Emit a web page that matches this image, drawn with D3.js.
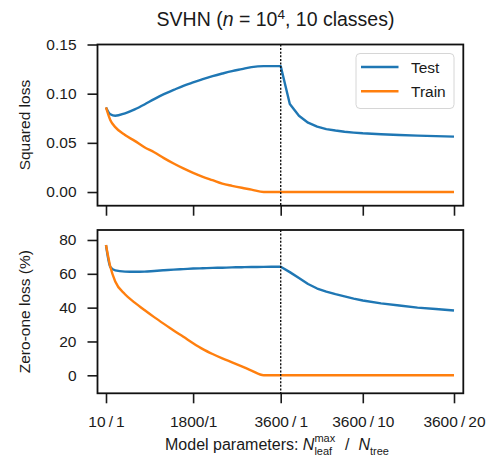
<!DOCTYPE html>
<html>
<head>
<meta charset="utf-8">
<script src="https://cdn.jsdelivr.net/npm/d3@7/dist/d3.min.js"></script>
<style>
  html, body { margin: 0; padding: 0; background: #fff; }
  svg { display: block; font-family: "Liberation Sans", Arial, Helvetica, sans-serif; }
  text { white-space: pre; }
</style>
</head>
<body>
<svg id="chart" width="486" height="458"></svg>
<script>
// Phase 1: a single tree grown to more and more leaves (N_leaf^max)
const leafSizes = [10, 100, 200, 400, 600, 800, 1000, 1200, 1400, 1600, 1800, 2000, 2200, 2400, 2600, 2800, 3000, 3250, 3600];
// Phase 2: leaf limit fixed at 3600, more trees averaged (N_tree)
const forestSizes = [1, 2, 3, 4, 5, 6, 7, 8, 9, 10, 12, 14, 16, 18, 20];
const leafCap = 3600;

// Squared loss
const sqTestLeaves  = [0.086, 0.079, 0.0775, 0.080, 0.084, 0.089, 0.0945, 0.0995, 0.1038, 0.108, 0.1115, 0.1148, 0.1178, 0.1205, 0.123, 0.125, 0.127, 0.128, 0.128];
const sqTrainLeaves = [0.086, 0.073, 0.066, 0.058, 0.052, 0.0455, 0.0405, 0.0345, 0.029, 0.024, 0.0195, 0.0155, 0.012, 0.0085, 0.0063, 0.0043, 0.0025, 0.0, 0.0];
const sqTestTrees   = [0.128, 0.0895, 0.0775, 0.0705, 0.0665, 0.064, 0.0625, 0.0613, 0.0604, 0.0597, 0.0588, 0.058, 0.0574, 0.0568, 0.0563];
const sqTrainTrees  = [0, 0, 0, 0, 0, 0, 0, 0, 0, 0, 0, 0, 0, 0, 0];

// Zero-one loss (%)
const zoTestLeaves  = [77, 64, 62, 61.3, 61.2, 61.3, 61.7, 62.1, 62.5, 62.8, 63.1, 63.3, 63.5, 63.6, 63.8, 63.9, 64.0, 64.1, 64.2];
const zoTrainLeaves = [77, 64, 55.5, 47.9, 43, 38.6, 34.4, 30.4, 26.5, 22.8, 19.0, 15.5, 12.6, 10.0, 7.7, 5.3, 2.8, 0, 0];
const zoTestTrees   = [64.2, 61, 57.5, 54, 51.3, 49.5, 48, 46.7, 45.3, 44.2, 42.5, 41.3, 40, 39.2, 38.3];
const zoTrainTrees  = [0, 0, 0, 0, 0, 0, 0, 0, 0, 0, 0, 0, 0, 0, 0];

// Axis ticks
const xTickParams = [10, 1800, 3600, 36000, 72000];
const xTickLabels = ["10\u2009/\u20091", "1800/1", "3600\u2009/\u20091", "3600\u2009/\u200910", "3600\u2009/\u200920"];
const sqTicks = [0, 0.05, 0.10, 0.15];
const zoTicks = [0, 20, 40, 60, 80];

const seriesNames = ["Test", "Train"];
const colors = { Test: "#1f77b4", Train: "#ff7f0e" };

const svg = d3.select("#chart");
const left = 97.5, right = 463.3;
const fontSize = 15.5;
const textColor = "#1a1a1a";

// x: total parameters (leaves x trees), piecewise linear so each phase gets half the width
const x = d3.scaleLinear()
  .domain([10, leafCap, leafCap * 20])
  .range([106, 280.7, 454]);

function buildPhases(testL, trainL, testT, trainT) {
  const grow = (vals) => leafSizes.map((l, i) => ({ p: l * 1, v: vals[i] }));
  const forest = (vals) => forestSizes.map((t, i) => ({ p: leafCap * t, v: vals[i] }));
  return {
    Test: { grow: grow(testL), forest: forest(testT) },
    Train: { grow: grow(trainL), forest: forest(trainT) }
  };
}

const panels = [
  { top: 44.5, bottom: 205.7, domain: [-0.0139, 0.15], ticks: sqTicks, fmt: d3.format(".2f"),
    label: "Squared loss", data: buildPhases(sqTestLeaves, sqTrainLeaves, sqTestTrees, sqTrainTrees),
    xLabels: false, legend: true },
  { top: 230, bottom: 393.3, domain: [-10.64, 85.9], ticks: zoTicks, fmt: d3.format("d"),
    label: "Zero-one loss (%)", data: buildPhases(zoTestLeaves, zoTrainLeaves, zoTestTrees, zoTrainTrees),
    xLabels: true, legend: false }
];

panels.forEach(pn => {
  const y = d3.scaleLinear().domain(pn.domain).range([pn.bottom, pn.top]);
  const g = svg.append("g");

  // y axis
  const ya = g.append("g").attr("transform", `translate(${left},0)`)
    .call(d3.axisLeft(y).tickValues(pn.ticks).tickFormat(pn.fmt).tickSize(10).tickPadding(11));
  ya.select(".domain").remove();
  ya.selectAll(".tick line").attr("stroke", textColor).attr("stroke-width", 1.6);
  ya.selectAll(".tick text").attr("fill", textColor).style("font-size", fontSize + "px")
    .style("font-family", "'Liberation Sans', Arial, sans-serif");

  // x axis (ticks hang below the frame)
  const xa = g.append("g").attr("transform", `translate(0,${pn.bottom})`)
    .call(d3.axisBottom(x).tickValues(xTickParams)
      .tickFormat((d, i) => pn.xLabels ? xTickLabels[i] : "")
      .tickSize(10).tickPadding(12.5));
  xa.select(".domain").remove();
  xa.selectAll(".tick line").attr("stroke", textColor).attr("stroke-width", 1.6);
  xa.selectAll(".tick text").attr("fill", textColor).style("font-size", fontSize + "px")
    .style("font-family", "'Liberation Sans', Arial, sans-serif");

  // curves: smooth while the tree grows, straight segments as trees are added
  const growLine = d3.line().x(d => x(d.p)).y(d => y(d.v)).curve(d3.curveMonotoneX);
  const forestLine = d3.line().x(d => x(d.p)).y(d => y(d.v));
  seriesNames.forEach(name => {
    const s = pn.data[name];
    const d = growLine(s.grow) + forestLine(s.forest).replace(/^M/, "L");
    g.append("path")
      .attr("fill", "none").attr("stroke", colors[name])
      .attr("stroke-width", 2.4).attr("stroke-linejoin", "round").attr("stroke-linecap", "butt")
      .attr("d", d);
  });

  // boundary between growing one tree and adding trees
  g.append("line")
    .attr("x1", x(leafCap)).attr("x2", x(leafCap))
    .attr("y1", pn.top).attr("y2", pn.bottom)
    .attr("stroke", "#111").attr("stroke-width", 1.4).attr("stroke-dasharray", "2,1.6");

  // frame
  g.append("rect").attr("x", left).attr("y", pn.top)
    .attr("width", right - left).attr("height", pn.bottom - pn.top)
    .attr("fill", "none").attr("stroke", "#111").attr("stroke-width", 1.8);

  // y label
  g.append("text")
    .attr("transform", `translate(30,${(pn.top + pn.bottom) / 2}) rotate(-90)`)
    .attr("text-anchor", "middle").attr("fill", textColor)
    .style("font-size", fontSize + "px").text(pn.label);

  if (pn.legend) {
    const lg = g.append("g");
    lg.append("rect").attr("x", 356).attr("y", 53.5).attr("width", 98).attr("height", 55)
      .attr("rx", 4).attr("fill", "#fff").attr("fill-opacity", 0.85)
      .attr("stroke", "#d6d6d6").attr("stroke-width", 1);
    seriesNames.forEach((name, i) => {
      const ly = 67 + i * 24.3;
      lg.append("line").attr("x1", 361).attr("x2", 398.5).attr("y1", ly).attr("y2", ly)
        .attr("stroke", colors[name]).attr("stroke-width", 2.4);
      lg.append("text").attr("x", 411).attr("y", ly + 5.6).attr("fill", textColor)
        .style("font-size", fontSize + "px").text(name);
    });
  }
});

// title with italic n and superscript exponent
const title = svg.append("text")
  .attr("x", 275.5).attr("y", 26).attr("text-anchor", "middle")
  .attr("fill", textColor).style("font-size", "19.5px");
title.append("tspan").text("SVHN (");
title.append("tspan").style("font-style", "italic").text("n");
title.append("tspan").text(" = 10");
title.append("tspan").attr("dy", -7).style("font-size", "13.5px").text("4");
title.append("tspan").attr("dy", 7).text(", 10 classes)");

// x label: Model parameters: N_leaf^max / N_tree
const xl = svg.append("g");
const labelSize = 16, scriptSize = 11;
let cx = 0;
function piece(str, opts = {}) {
  const t = xl.append("text").attr("x", cx).attr("y", opts.dy || 0)
    .attr("fill", textColor)
    .style("font-size", (opts.size || labelSize) + "px")
    .style("font-style", opts.italic ? "italic" : "normal")
    .text(str);
  const w = t.node().getComputedTextLength();
  if (!opts.hold) cx += w;
  return w;
}
piece("Model parameters:\u00a0");
piece("N", { italic: true });
const wMax = piece("max", { size: scriptSize, dy: -8, hold: true });
const wLeaf = piece("leaf", { size: scriptSize, dy: 5, hold: true });
cx += Math.max(wMax, wLeaf) + 1;
piece("\u00a0\u00a0/\u00a0\u00a0");
piece("N", { italic: true });
piece("tree", { size: scriptSize, dy: 5 });
xl.attr("transform", `translate(${277 - cx / 2},450)`);
</script>
</body>
</html>
